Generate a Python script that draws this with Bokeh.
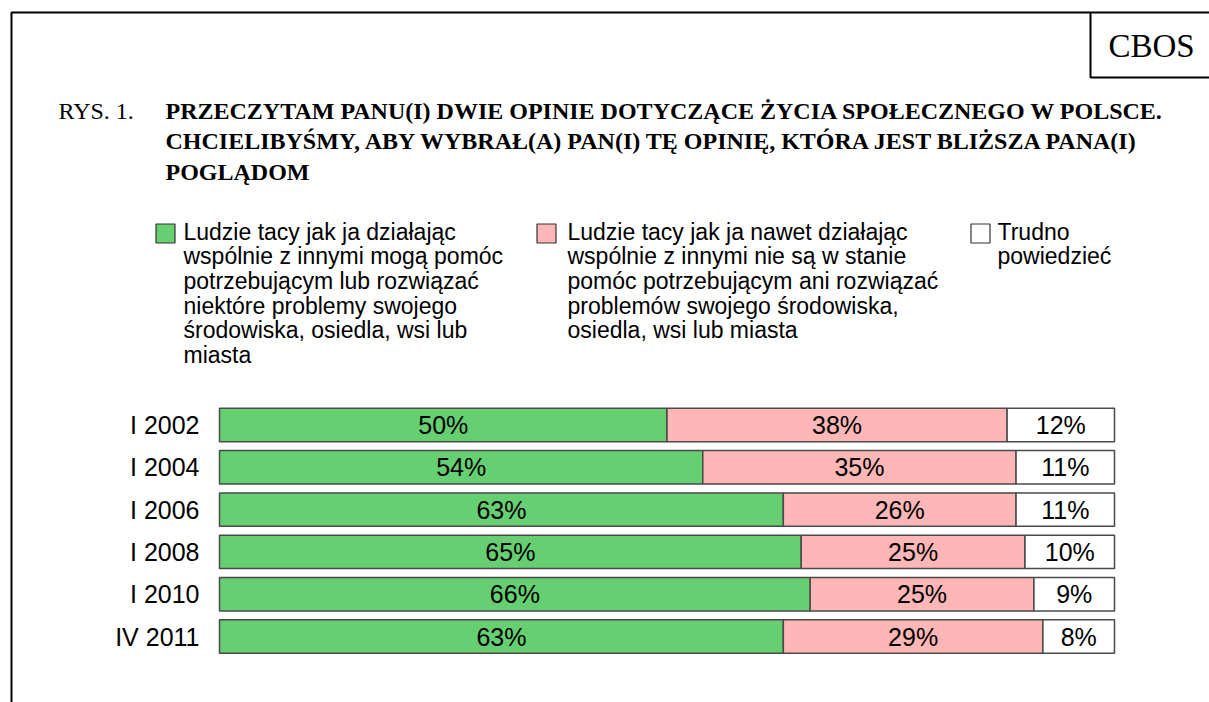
import numpy as np
from bokeh.plotting import figure
from bokeh.models import Range1d, ColumnDataSource
from bokeh.core.properties import value
from bokeh.embed import file_html
from bokeh.resources import INLINE

# ---------------- data ----------------
categories = ["I 2002", "I 2004", "I 2006", "I 2008", "I 2010", "IV 2011"]
can_help = [50, 54, 63, 65, 66, 63]
cannot_help = [38, 35, 26, 25, 25, 29]
hard_to_say = [12, 11, 11, 10, 9, 8]

series_names = [
    "Ludzie tacy jak ja działając\nwspólnie z innymi mogą pomóc\npotrzebującym lub rozwiązać\nniektóre problemy swojego\nśrodowiska, osiedla, wsi lub\nmiasta",
    "Ludzie tacy jak ja nawet działając\nwspólnie z innymi nie są w stanie\npomóc potrzebującym ani rozwiązać\nproblemów swojego środowiska,\nosiedla, wsi lub miasta",
    "Trudno\npowiedzieć",
]
title_prefix = "RYS. 1."
title_lines = [
    "PRZECZYTAM PANU(I) DWIE OPINIE DOTYCZĄCE ŻYCIA SPOŁECZNEGO W POLSCE.",
    "CHCIELIBYŚMY, ABY WYBRAŁ(A) PAN(I) TĘ OPINIĘ, KTÓRA JEST BLIŻSZA PANA(I)",
    "POGLĄDOM",
]
source_label = "CBOS"

# ---------------- styles / layout ----------------
W, H = 1209, 702
colors = ["#66CF71", "#FFB6B6", "#FFFFFF"]
SANS = "Liberation Sans"
SERIF = "Liberation Serif"

bar_left_px, bar_right_px = 219, 1114
px_per_pct = (bar_right_px - bar_left_px) / 100.0
row0_px, row_pitch = 424.5, 42.3

p = figure(width=W, height=H, x_axis_type=None, y_axis_type=None,
           x_range=Range1d(0, W), y_range=Range1d(H, 0),
           min_border=0, toolbar_location=None, output_backend="svg",
           outline_line_color=None, background_fill_color="white",
           border_fill_color="white")
p.grid.visible = False

p.extra_x_ranges = {"pct": Range1d(-bar_left_px / px_per_pct, (W - bar_left_px) / px_per_pct)}
p.extra_y_ranges = {"row": Range1d((H - row0_px) / row_pitch, -row0_px / row_pitch)}

# ---------------- bars ----------------
rows = np.arange(len(categories))
series = [np.array(can_help), np.array(cannot_help), np.array(hard_to_say)]
left = np.zeros(len(categories))
for vals, col in zip(series, colors):
    right = left + vals
    src = ColumnDataSource(dict(y=rows, left=left, right=right,
                                mid=(left + right) / 2,
                                lab=[f"{v}%" for v in vals]))
    p.hbar(y="y", left="left", right="right", height=0.79, source=src,
           fill_color=col, line_color="#4a4a4a", line_width=1.5,
           x_range_name="pct", y_range_name="row")
    p.text(x="mid", y="y", text="lab", source=src, x_range_name="pct",
           y_range_name="row", text_align="center", text_baseline="middle",
           text_font=value(SANS), text_font_size="25px", text_color="black")
    left = right

# category labels
p.text(x=np.zeros(len(categories)), y=rows, text=categories, x_offset=-20,
       x_range_name="pct", y_range_name="row", text_align="right",
       text_baseline="middle", text_font=value(SANS), text_font_size="25px",
       text_color="black")

# ---------------- legend ----------------
leg_sq_x = [165, 546, 980]
leg_txt_x = [183, 567, 997]
p.scatter(x=leg_sq_x, y=[233] * 3, marker="square", size=19,
          fill_color=colors, line_color="#333333", line_width=1.2)
p.text(x=leg_txt_x, y=[218] * 3, text=series_names, text_align="left",
       text_baseline="top", text_font=value(SANS), text_font_size="23px",
       text_line_height=0.95, text_color="black")

# ---------------- title ----------------
p.text(x=[58], y=[110], text=[title_prefix], text_align="left",
       text_baseline="middle", text_font=value(SERIF), text_font_size="24px",
       text_color="black")
p.text(x=[165] * 3, y=[110, 140.5, 171], text=title_lines, text_align="left",
       text_baseline="middle", text_font=value(SERIF), text_font_size="24px",
       text_font_style="bold", text_color="black")

# ---------------- frame and CBOS box ----------------
p.line(x=[11, 11, W], y=[H, 12, 12], line_color="black", line_width=2)
p.line(x=[1090, 1090, W], y=[12, 77, 77], line_color="black", line_width=2)
p.text(x=[1151], y=[45], text=[source_label], text_align="center",
       text_baseline="middle", text_font=value(SERIF), text_font_size="33px",
       text_color="black")

open("out.html", "w").write(file_html(p, INLINE))
